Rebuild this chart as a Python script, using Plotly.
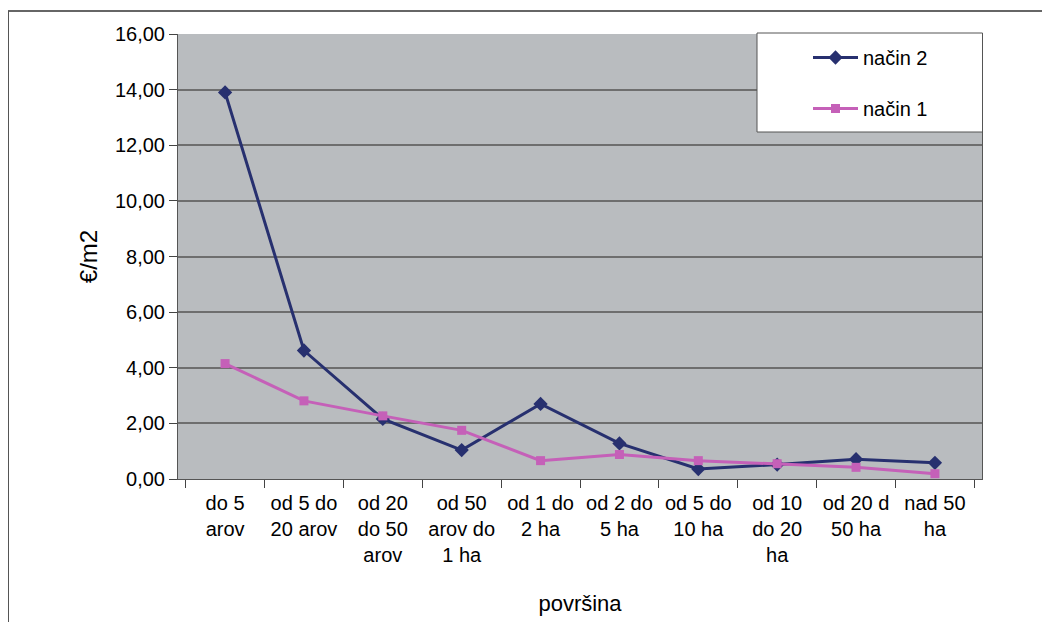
import plotly.graph_objects as go

categories = ["do 5<br>arov", "od 5 do<br>20 arov", "od 20<br>do 50<br>arov", "od 50<br>arov do<br>1 ha",
              "od 1 do<br>2 ha", "od 2 do<br>5 ha", "od 5 do<br>10 ha", "od 10<br>do 20<br>ha",
              "od 20 d<br>50 ha", "nad 50<br>ha"]
nacin2 = [13.90, 4.62, 2.16, 1.04, 2.70, 1.28, 0.36, 0.52, 0.71, 0.58]
nacin1 = [4.15, 2.81, 2.27, 1.75, 0.66, 0.88, 0.66, 0.55, 0.42, 0.19]
yticks = [0, 2, 4, 6, 8, 10, 12, 14, 16]

OFF = 8  # page body margin
W, H = 1050 - OFF, 622 - OFF
# plot area in screen coordinates
L, R, T, B = 178, 982, 34, 479

def px(x):
    return (x - L) / (R - L)

def py(y):
    return (B - y) / (B - T)

shapes = [
    dict(type="line", xref="paper", yref="paper", x0=px(8), x1=px(1050), y0=py(11), y1=py(11),
         line=dict(color="#333333", width=1.5)),
    dict(type="line", xref="paper", yref="paper", x0=px(8.5), x1=px(8.5), y0=py(11), y1=py(622),
         line=dict(color="#555555", width=1)),
    dict(type="rect", xref="paper", yref="paper", x0=px(757), x1=px(982.5), y0=py(33), y1=py(132),
         fillcolor="white", line=dict(color="#555555", width=1), layer="above"),
]

fig = go.Figure()
fig.add_trace(go.Scatter(x=categories, y=nacin2, name="način 2", mode="lines+markers",
                         line=dict(color="#27306F", width=3),
                         marker=dict(symbol="diamond", size=11, color="#27306F"),
                         legendgroup="a"))
fig.add_trace(go.Scatter(x=categories, y=nacin1, name="način 1", mode="lines+markers",
                         line=dict(color="#C560B8", width=3),
                         marker=dict(symbol="square", size=9, color="#C560B8"),
                         legendgroup="b"))

fig.update_layout(
    width=W, height=H,
    margin=dict(l=L - OFF, r=W - (R - OFF), t=T - OFF, b=H - (B - OFF), pad=0),
    paper_bgcolor="white",
    plot_bgcolor="#B9BCBF",
    separators=",.",
    font=dict(family="Liberation Sans, Arial, sans-serif", size=20, color="black"),
    showlegend=True,
    legend=dict(x=px(808), y=py(38), xanchor="left", yanchor="top",
                bgcolor="rgba(0,0,0,0)", borderwidth=0,
                font=dict(size=20), itemwidth=45, tracegroupgap=22),
    shapes=shapes,
    xaxis=dict(type="category", tickson="boundaries", ticks="outside", ticklen=8,
               tickcolor="#444444", showline=True, linecolor="#555555", linewidth=1,
               showgrid=False, tickfont=dict(size=20), ticklabelstandoff=6,
               title=dict(text="površina", font=dict(size=22), standoff=30)),
    yaxis=dict(range=[0, 16], tickvals=yticks, tickformat=".2f", ticks="outside", ticklen=8,
               tickcolor="#444444", showline=True, linecolor="#555555", linewidth=1, mirror=True,
               showgrid=True, gridcolor="#6E6E6E", gridwidth=1.5, zeroline=False,
               tickfont=dict(size=20),
               title=dict(text="€/m2", font=dict(size=24), standoff=10)),
)

fig.write_html("out.html")
